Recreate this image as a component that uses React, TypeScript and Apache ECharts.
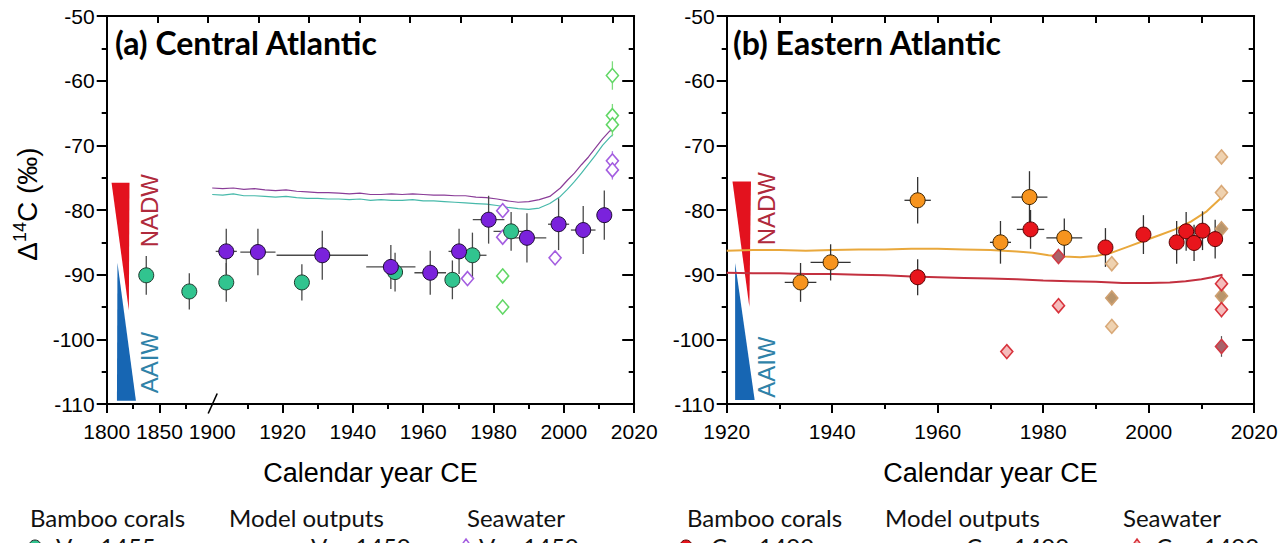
import React, { useEffect, useRef } from "react";
import * as echarts from "echarts";

// ---------- axis break for panel (a): 1800–1900 is compressed ----------
const BREAK_YEAR = 1900;
const BREAK_FACTOR = 0.3;
const toT = (yr: number) => (yr < BREAK_YEAR ? BREAK_YEAR - (BREAK_YEAR - yr) * BREAK_FACTOR : yr);
const fromT = (t: number) => (t < BREAK_YEAR ? BREAK_YEAR - (BREAK_YEAR - t) / BREAK_FACTOR : t);

// ---------- ticks ----------
const xMajorA = [1800, 1850, 1920, 1940, 1960, 1980, 2000, 2020];
const xLabelsA = [1800, 1850, 1900, 1920, 1940, 1960, 1980, 2000, 2020];
const xMinorA = [1825, 1875, 1910, 1930, 1950, 1970, 1990, 2010];

// ---------- panel (a) Central Atlantic: [year, Δ14C, xErr, yErr] ----------
const coralPurpleA = [
  [1904, -86.4, 3, 3.5],
  [1913, -86.5, 5, 3.6],
  [1931.3, -87.0, 13, 3.8],
  [1950.8, -88.8, 7, 3.4],
  [1962, -89.7, 4.5, 3.4],
  [1970.2, -86.4, 3, 3.5],
  [1978.6, -81.5, 4.5, 3.7],
  [1989.5, -84.3, 5.5, 3.8],
  [1998.5, -82.2, 3, 4],
  [2005.5, -83.1, 3.5, 3.7],
  [2011.5, -80.8, 1.5, 3.8],
];
const coralGreenA = [
  [1837.5, -90.1, 0, 3],
  [1878.3, -92.6, 0, 2.8],
  [1904, -91.2, 0, 3],
  [1925.5, -91.2, 2, 2.8],
  [1952, -89.6, 2, 3],
  [1968.3, -90.8, 2, 3],
  [1974, -87.0, 4, 3.5],
  [1985, -83.3, 5, 3],
];
const modelPurpleA = [
  [1900, -76.6], [1903, -76.7], [1906, -76.6], [1909, -76.8], [1912, -76.7], [1915, -76.9],
  [1918, -77.0], [1921, -76.9], [1924, -77.1], [1927, -77.2], [1930, -77.3], [1933, -77.3],
  [1936, -77.4], [1939, -77.5], [1942, -77.4], [1945, -77.6], [1948, -77.6], [1951, -77.5],
  [1954, -77.6], [1957, -77.5], [1960, -77.6], [1963, -77.7], [1966, -77.7], [1969, -77.8],
  [1972, -77.8], [1975, -78.0], [1978, -78.1], [1981, -78.3], [1984, -78.6], [1987, -78.8],
  [1990, -78.7], [1993, -78.4], [1996, -77.9], [1999, -76.6], [2001, -75.4], [2003, -74.3],
  [2005, -73.0], [2007, -71.8], [2009, -70.4], [2011, -69.0], [2013, -67.8], [2014, -67.5],
];
const modelTealA = [
  [1900, -77.6], [1903, -77.7], [1906, -77.5], [1909, -77.8], [1912, -77.8], [1915, -77.9],
  [1918, -78.0], [1921, -77.9], [1924, -78.1], [1927, -78.2], [1930, -78.2], [1933, -78.3],
  [1936, -78.3], [1939, -78.4], [1942, -78.3], [1945, -78.5], [1948, -78.4], [1951, -78.5],
  [1954, -78.5], [1957, -78.4], [1960, -78.6], [1963, -78.6], [1966, -78.7], [1969, -78.8],
  [1972, -78.9], [1975, -79.0], [1978, -79.1], [1981, -79.3], [1984, -79.6], [1987, -79.8],
  [1990, -79.9], [1993, -79.7], [1996, -79.0], [1999, -77.9], [2001, -76.8], [2003, -75.6],
  [2005, -74.3], [2007, -72.9], [2009, -71.5], [2011, -70.0], [2013, -68.8], [2014, -68.3],
];
// seawater: [year, Δ14C, yErr]
const seawaterPurpleA = [
  [1972.6, -90.6, 0], [1982.6, -80.1, 0], [1982.6, -84.2, 0], [1997.5, -87.4, 0],
  [2013.8, -72.4, 1.5], [2013.8, -73.8, 1.5],
];
const seawaterGreenA = [
  [1982.6, -90.2, 0], [1982.6, -95.0, 0], [2013.8, -59.2, 2.2], [2013.8, -65.4, 1.8],
  [2013.8, -66.8, 1.8],
];

// ---------- panel (b) Eastern Atlantic ----------
const coralOrangeB = [
  [1934, -91.2, 3, 3],
  [1939.7, -88.1, 3.8, 2.8],
  [1956.2, -78.5, 2.5, 3.6],
  [1971.9, -85.0, 2, 3.3],
  [1977.4, -78.0, 3.4, 4],
  [1984, -84.3, 3.4, 3],
];
const coralRedB = [
  [1956.2, -90.4, 0, 2.8],
  [1977.6, -83.0, 2.6, 3],
  [1991.8, -85.8, 0.5, 3],
  [1999, -83.8, 0, 3],
  [2005.3, -85.0, 0, 3.3],
  [2007.1, -83.3, 0, 3],
  [2008.6, -85.1, 0, 2.8],
  [2010.2, -83.2, 0, 3],
  [2012.6, -84.5, 0, 3],
];
const modelOrangeB = [
  [1920, -86.3], [1925, -86.2], [1930, -86.2], [1935, -86.3], [1940, -86.2], [1945, -86.1],
  [1950, -86.1], [1955, -86.0], [1960, -86.0], [1965, -86.1], [1970, -86.2], [1975, -86.4],
  [1978, -86.6], [1981, -87.0], [1984, -87.2], [1987, -87.3], [1990, -87.1], [1993, -86.6],
  [1996, -85.7], [1999, -84.8], [2002, -83.9], [2005, -83.0], [2008, -81.8], [2011, -80.2],
  [2014, -77.9],
];
const modelRedB = [
  [1920, -89.7], [1925, -89.8], [1930, -89.8], [1935, -89.9], [1940, -89.9], [1945, -90.0],
  [1950, -90.1], [1955, -90.3], [1960, -90.4], [1965, -90.5], [1970, -90.6], [1975, -90.7],
  [1980, -90.9], [1985, -91.0], [1990, -91.1], [1995, -91.3], [2000, -91.3], [2004, -91.2],
  [2007, -91.0], [2010, -90.7], [2012, -90.4], [2014, -90.0],
];
const seawaterRedDarkB = [[1982.9, -87.2, 0], [2013.8, -101.1, 1.6]];
const seawaterRedLightB = [[1973.1, -101.9, 0], [1982.9, -94.8, 0], [2013.8, -91.4, 1.2], [2013.8, -95.4, 1.2]];
const seawaterTanLightB = [[1993, -88.3, 0], [1993, -98.0, 0], [2013.8, -71.8, 0], [2013.8, -77.3, 0]];
const seawaterTanDarkB = [[1993, -93.6, 0], [2013.8, -82.9, 0], [2013.8, -93.3, 1.2]];

// ---------- water-mass wedges (data coordinates: year, Δ14C) ----------
const nadwWedgeA = [[1804.6, -75.8], [1821.6, -75.8], [1821.0, -95.5]];
const aaiwWedgeA = [[1810.2, -88.2], [1827.7, -109.5], [1809.7, -109.5]];
const labelPosA = { nadw: [1841, -80.1], aaiw: [1840.5, -103.6] };
const nadwWedgeB = [[1921.1, -75.6], [1924.6, -75.6], [1924.3, -95.0]];
const aaiwWedgeB = [[1921.6, -88.2], [1925.3, -109.4], [1921.6, -109.4]];
const labelPosB = { nadw: [1927.6, -79.8], aaiw: [1927.6, -104.3] };

const NUM_FONT = "'Liberation Sans', Arial, Helvetica, sans-serif";
const TXT_FONT = "Lato, 'Open Sans', sans-serif";

const GRID_TOP = 16;
const GRID_H = 388;
const GRID_W = 527.5;
const GRID_A_LEFT = 106.7;
const GRID_B_LEFT = 726.7;

function errRender(color: string, width: number) {
  return (params: any, api: any) => {
    const x = api.value(0);
    const y = api.value(1);
    const xe = api.value(2);
    const ye = api.value(3);
    const children: any[] = [];
    if (ye > 0) {
      const p1 = api.coord([x, y - ye]);
      const p2 = api.coord([x, y + ye]);
      children.push({ type: "line", shape: { x1: p1[0], y1: p1[1], x2: p2[0], y2: p2[1] }, style: { stroke: color, lineWidth: width } });
    }
    if (xe > 0) {
      const p1 = api.coord([x - xe, y]);
      const p2 = api.coord([x + xe, y]);
      children.push({ type: "line", shape: { x1: p1[0], y1: p1[1], x2: p2[0], y2: p2[1] }, style: { stroke: color, lineWidth: width } });
    }
    return { type: "group", children };
  };
}

function annotRender(red: number[][], blue: number[][], pos: any, xf: (v: number) => number, withBreak: boolean) {
  return (params: any, api: any) => {
    const pts = (arr: number[][]) => arr.map((p) => api.coord([xf(p[0]), p[1]]));
    const n = api.coord([xf(pos.nadw[0]), pos.nadw[1]]);
    const a = api.coord([xf(pos.aaiw[0]), pos.aaiw[1]]);
    const children: any[] = [
      { type: "polygon", shape: { points: pts(blue) }, style: { fill: "#1766b3" } },
      { type: "polygon", shape: { points: pts(red) }, style: { fill: "#e3121e" } },
      {
        type: "text", x: n[0], y: n[1], rotation: Math.PI / 2,
        style: { text: "NADW", fill: "#b02a3c", font: `24px ${NUM_FONT}`, align: "center", verticalAlign: "middle" },
      },
      {
        type: "text", x: a[0], y: a[1], rotation: Math.PI / 2,
        style: { text: "AAIW", fill: "#2f82a8", font: `24px ${NUM_FONT}`, align: "center", verticalAlign: "middle" },
      },
    ];
    if (withBreak) {
      const b = api.coord([BREAK_YEAR, -110]);
      children.push({
        type: "line",
        shape: { x1: b[0] - 4, y1: b[1] + 9.5, x2: b[0] + 5, y2: b[1] - 10.5 },
        style: { stroke: "#000", lineWidth: 1.6 },
      });
    }
    return { type: "group", children };
  };
}

const axisLine = { show: true, onZero: false, lineStyle: { color: "#000", width: 2 } };
const tickStyle = { color: "#000", width: 2 };
const labelStyle = { color: "#000", fontSize: 21, fontFamily: NUM_FONT };

function yAxes(gridIndex: number) {
  return [
    {
      type: "value", gridIndex, position: "left", min: -110, max: -50, interval: 10,
      axisLine, splitLine: { show: false },
      axisTick: { show: true, inside: false, length: 10, lineStyle: tickStyle },
      minorTick: { show: true, splitNumber: 2, length: 5, lineStyle: tickStyle },
      axisLabel: { ...labelStyle, margin: 12, formatter: (v: number) => String(v) },
    },
    {
      type: "value", gridIndex, position: "right", min: -110, max: -50, interval: 10,
      axisLine, splitLine: { show: false },
      axisTick: { show: true, inside: true, length: 12, lineStyle: tickStyle },
      minorTick: { show: true, splitNumber: 2, length: 5.5, lineStyle: tickStyle },
      axisLabel: { show: false },
    },
  ];
}

function seawaterSeries(data: number[][], xf: (v: number) => number, xi: number, yi: number, fill: string, stroke: string, name: string) {
  return {
    name, type: "scatter", xAxisIndex: xi, yAxisIndex: yi, symbol: "diamond", symbolSize: [12, 14], z: 4,
    itemStyle: { color: fill, borderColor: stroke, borderWidth: 1.6, opacity: 1 },
    data: data.map((d) => [xf(d[0]), d[1]]),
  };
}

function coralSeries(data: number[][], xf: (v: number) => number, xi: number, yi: number, fill: string, stroke: string, name: string) {
  return {
    name, type: "scatter", xAxisIndex: xi, yAxisIndex: yi, symbol: "circle", symbolSize: 15, z: 5,
    itemStyle: { color: fill, borderColor: stroke, borderWidth: 1, opacity: 1 },
    data: data.map((d) => [xf(d[0]), d[1]]),
  };
}

function errSeries(data: number[][], xf: (v: number) => number, xi: number, yi: number, color: string, width: number) {
  return {
    type: "custom", xAxisIndex: xi, yAxisIndex: yi, z: 3, silent: true,
    renderItem: errRender(color, width),
    data: data.map((d) => [xf(d[0]), d[1], d.length > 3 ? d[2] : 0, d.length > 3 ? d[3] : d[2]]),
  };
}

function lineSeries(data: number[][], xf: (v: number) => number, xi: number, yi: number, color: string, width: number) {
  return {
    type: "line", xAxisIndex: xi, yAxisIndex: yi, showSymbol: false, symbol: "none", z: 2, silent: true,
    lineStyle: { color, width }, data: data.map((d) => [xf(d[0]), d[1]]),
  };
}

function textEl(text: string, x: number, y: number, font: string, fill = "#111", align = "left") {
  return {
    type: "text", x, y, silent: true,
    style: { text, font, fill, align, textAlign: align, verticalAlign: "middle", textVerticalAlign: "middle" },
  };
}

export default function App() {
  const ref = useRef<HTMLDivElement>(null);
  useEffect(() => {
    if (!ref.current) return;
    const chart = echarts.init(ref.current, null, { renderer: "svg" });
    const id = (v: number) => v;
    const option: any = {
      animation: false,
      backgroundColor: "#fff",
      grid: [
        { left: GRID_A_LEFT, top: GRID_TOP, width: GRID_W, height: GRID_H, containLabel: false, outerBoundsMode: "none" },
        { left: GRID_B_LEFT, top: GRID_TOP, width: GRID_W, height: GRID_H, containLabel: false, outerBoundsMode: "none" },
      ],
      xAxis: [
        {
          type: "value", gridIndex: 0, position: "bottom", min: toT(1800), max: 2020,
          axisLine, splitLine: { show: false },
          axisTick: { show: true, length: 9, lineStyle: tickStyle, customValues: xMajorA.map(toT) },
          axisLabel: { ...labelStyle, margin: 17, customValues: xLabelsA.map(toT), formatter: (v: number) => String(Math.round(fromT(v))) },
        },
        {
          type: "value", gridIndex: 0, position: "bottom", min: toT(1800), max: 2020,
          axisLine: { show: false }, splitLine: { show: false },
          axisTick: { show: true, length: 5, lineStyle: tickStyle, customValues: xMinorA.map(toT) },
          axisLabel: { show: false },
        },
        {
          type: "value", gridIndex: 0, position: "top", min: 0, max: 10.43, interval: 1,
          axisLine, splitLine: { show: false },
          axisTick: { show: true, inside: true, length: 7, lineStyle: tickStyle },
          axisLabel: { show: false },
        },
        {
          type: "value", gridIndex: 1, position: "bottom", min: 1920, max: 2020, interval: 20,
          axisLine, splitLine: { show: false },
          axisTick: { show: true, length: 9, lineStyle: tickStyle },
          minorTick: { show: true, splitNumber: 2, length: 5, lineStyle: tickStyle },
          axisLabel: { ...labelStyle, margin: 17, formatter: (v: number) => String(v) },
        },
        {
          type: "value", gridIndex: 1, position: "top", min: 1920, max: 2020, interval: 10,
          axisLine, splitLine: { show: false },
          axisTick: { show: true, inside: true, length: 7, lineStyle: tickStyle },
          axisLabel: { show: false },
        },
      ],
      yAxis: [...yAxes(0), ...yAxes(1)],
      series: [
        // panel (a)
        lineSeries(modelPurpleA, toT, 0, 0, "#8a3d98", 1.2),
        lineSeries(modelTealA, toT, 0, 0, "#47b9aa", 1.2),
        errSeries(coralPurpleA, toT, 0, 0, "#4a4a4a", 1.3),
        errSeries(coralGreenA, toT, 0, 0, "#4a4a4a", 1.3),
        errSeries(seawaterPurpleA, toT, 0, 0, "#b07be6", 1.3),
        errSeries(seawaterGreenA, toT, 0, 0, "#7ddc7d", 1.3),
        seawaterSeries(seawaterPurpleA, toT, 0, 0, "#ffffff", "#a45ee0", "Seawater Vav 1450"),
        seawaterSeries(seawaterGreenA, toT, 0, 0, "#ffffff", "#62d766", "Seawater Vav 1450 b"),
        coralSeries(coralGreenA, toT, 0, 0, "#31c48f", "#1f3a2e", "Vav 1455 b"),
        coralSeries(coralPurpleA, toT, 0, 0, "#7a22dc", "#1c0b33", "Vav 1455"),
        {
          type: "custom", xAxisIndex: 0, yAxisIndex: 0, z: 1, silent: true, clip: false,
          renderItem: annotRender(nadwWedgeA, aaiwWedgeA, labelPosA, toT, true),
          data: [[toT(1800), -110]],
        },
        // panel (b)
        lineSeries(modelOrangeB, id, 3, 2, "#e9a83c", 2),
        lineSeries(modelRedB, id, 3, 2, "#c3303f", 2),
        errSeries(coralOrangeB, id, 3, 2, "#333333", 1.3),
        errSeries(coralRedB, id, 3, 2, "#333333", 1.3),
        errSeries(seawaterRedDarkB, id, 3, 2, "#555555", 1.2),
        errSeries(seawaterRedLightB, id, 3, 2, "#555555", 1.2),
        errSeries(seawaterTanDarkB, id, 3, 2, "#555555", 1.2),
        seawaterSeries(seawaterTanLightB, id, 3, 2, "#efd2b0", "#d9a978", "Seawater Can tan"),
        seawaterSeries(seawaterTanDarkB, id, 3, 2, "#b8956c", "#cfa070", "Seawater Can brown"),
        seawaterSeries(seawaterRedLightB, id, 3, 2, "#f5bcbc", "#d8333c", "Seawater Can pink"),
        seawaterSeries(seawaterRedDarkB, id, 3, 2, "#a8636a", "#d13a44", "Seawater Can dark"),
        coralSeries(coralOrangeB, id, 3, 2, "#f7941e", "#3a2200", "Can orange"),
        coralSeries(coralRedB, id, 3, 2, "#e8151c", "#5a0000", "Can 1400m"),
        {
          type: "custom", xAxisIndex: 3, yAxisIndex: 2, z: 1, silent: true, clip: false,
          renderItem: annotRender(nadwWedgeB, aaiwWedgeB, labelPosB, id, false),
          data: [[1920, -110]],
        },
      ],
      graphic: [
        textEl("(a) Central Atlantic", 115, 42, `bold 32px ${TXT_FONT}`, "#000"),
        textEl("(b) Eastern Atlantic", 733, 42, `bold 32px ${TXT_FONT}`, "#000"),
        textEl("Calendar year CE", GRID_A_LEFT + GRID_W / 2, 473, `27px ${NUM_FONT}`, "#000", "center"),
        textEl("Calendar year CE", GRID_B_LEFT + GRID_W / 2, 473, `27px ${NUM_FONT}`, "#000", "center"),
        {
          type: "text", x: 27, y: 204, rotation: Math.PI / 2, silent: true,
          style: {
            text: "{a|Δ}{s|14}{a|C (‰)}",
            fill: "#000", align: "center", textAlign: "center", verticalAlign: "middle", textVerticalAlign: "middle",
            rich: {
              a: { fontSize: 28, fontFamily: NUM_FONT, lineHeight: 32, fill: "#000" },
              s: { fontSize: 18, fontFamily: NUM_FONT, lineHeight: 18, verticalAlign: "top", fill: "#000" },
            },
          },
        },
        // legend row 1
        textEl("Bamboo corals", 30, 517, `24px ${TXT_FONT}`),
        textEl("Model outputs", 229, 517, `24px ${TXT_FONT}`),
        textEl("Seawater", 467, 517, `24px ${TXT_FONT}`),
        textEl("Bamboo corals", 687, 517, `24px ${TXT_FONT}`),
        textEl("Model outputs", 885, 517, `24px ${TXT_FONT}`),
        textEl("Seawater", 1123, 517, `24px ${TXT_FONT}`),
        // legend row 2 (cut off by the picture edge, as in the reference)
        { type: "circle", shape: { cx: 35, cy: 546, r: 6 }, style: { fill: "#31c48f", stroke: "#222", lineWidth: 1 } },
        textEl("Vav 1455", 56, 546, `24px ${TXT_FONT}`),
        { type: "line", shape: { x1: 250, y1: 546, x2: 300, y2: 546 }, style: { stroke: "#8a3d98", lineWidth: 1.2 } },
        textEl("Vav 1450", 311, 546, `24px ${TXT_FONT}`),
        { type: "polygon", shape: { points: [[466, 539], [471, 546], [466, 553], [461, 546]] }, style: { fill: "#fff", stroke: "#a45ee0", lineWidth: 1.5 } },
        textEl("Vav 1450", 479, 546, `24px ${TXT_FONT}`),
        { type: "circle", shape: { cx: 686, cy: 546, r: 6 }, style: { fill: "#e8151c", stroke: "#5a0000", lineWidth: 1 } },
        textEl("Can 1400m", 711, 546, `24px ${TXT_FONT}`),
        { type: "line", shape: { x1: 900, y1: 546, x2: 955, y2: 546 }, style: { stroke: "#c3303f", lineWidth: 2 } },
        textEl("Can 1400m", 966, 546, `24px ${TXT_FONT}`),
        { type: "polygon", shape: { points: [[1137, 539], [1142, 546], [1137, 553], [1132, 546]] }, style: { fill: "#f5bcbc", stroke: "#d8333c", lineWidth: 1.5 } },
        textEl("Can 1400m", 1156, 546, `24px ${TXT_FONT}`),
      ],
    };
    chart.setOption(option);
    return () => chart.dispose();
  }, []);
  return (
    <div
      ref={ref}
      style={{ position: "fixed", left: 0, top: 0, width: 1280, height: 543, background: "#fff" }}
    />
  );
}
